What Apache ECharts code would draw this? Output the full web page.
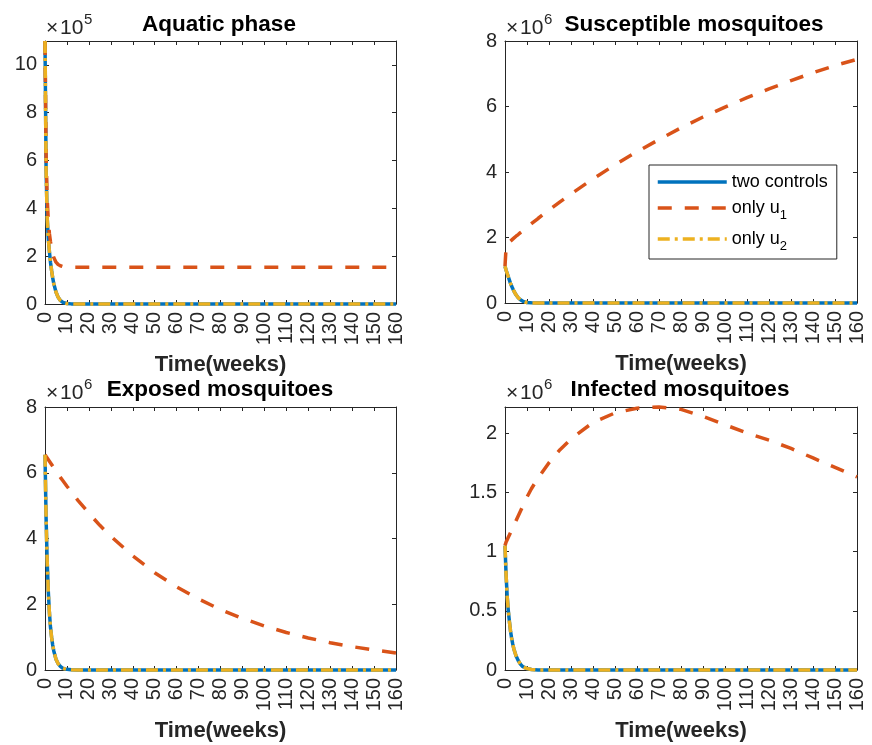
<!DOCTYPE html>
<html>
<head>
<meta charset="utf-8">
<script src="https://cdn.jsdelivr.net/npm/echarts@6/dist/echarts.min.js"></script>
<style>
  html, body { margin: 0; padding: 0; background: #fff; }
  #chart { width: 872px; height: 745px; }
</style>
</head>
<body>
<div id="chart"></div>
<script>
// Simulation time in weeks (shared by every curve)
const time = [0, 0.5, 1, 1.5, 2, 2.5, 3, 3.5, 4, 5, 6, 7, 8, 9, 10, 12, 15,
  20, 25, 30, 40, 50, 60, 70, 80, 90, 100, 110, 120, 130, 140, 150, 160];

const timeTicks = [0, 160, 10];           // min, max, step of the time axis

// Aquatic phase, in units of 10^5
const aquaticTwo = [11, 5.6, 3.6, 2.75, 2.2, 1.75, 1.4, 1.1, 0.85, 0.5, 0.28, 0.15, 0.08, 0.04, 0.02, 0.005, 0,
  0, 0, 0, 0, 0, 0, 0, 0, 0, 0, 0, 0, 0, 0, 0, 0];
const aquaticU1 = [11, 6.2, 4.4, 3.5, 2.95, 2.6, 2.3, 2.1, 1.95, 1.75, 1.65, 1.6, 1.57, 1.56, 1.55, 1.54, 1.54,
  1.54, 1.54, 1.54, 1.54, 1.54, 1.54, 1.54, 1.54, 1.54, 1.54, 1.54, 1.54, 1.54, 1.54, 1.54, 1.54];
const aquaticU2 = [11, 5.6, 3.6, 2.75, 2.2, 1.75, 1.4, 1.1, 0.85, 0.5, 0.28, 0.15, 0.08, 0.04, 0.02, 0.005, 0,
  0, 0, 0, 0, 0, 0, 0, 0, 0, 0, 0, 0, 0, 0, 0, 0];

// Susceptible mosquitoes, in units of 10^6
const suscTwo = [1.12, 1.0, 0.9, 0.8, 0.7, 0.6, 0.52, 0.44, 0.37, 0.25, 0.16, 0.1, 0.06, 0.03, 0.015, 0.004, 0,
  0, 0, 0, 0, 0, 0, 0, 0, 0, 0, 0, 0, 0, 0, 0, 0];
const suscU1 = [1.12, 1.72, 1.81, 1.84, 1.86, 1.89, 1.92, 1.95, 1.98, 2.04, 2.09, 2.15, 2.2, 2.26, 2.31, 2.42, 2.58,
  2.84, 3.09, 3.33, 3.79, 4.22, 4.62, 4.99, 5.35, 5.68, 5.98, 6.27, 6.54, 6.79, 7.03, 7.25, 7.44];
const suscU2 = [1.12, 1.0, 0.9, 0.8, 0.7, 0.6, 0.52, 0.44, 0.37, 0.25, 0.16, 0.1, 0.06, 0.03, 0.015, 0.004, 0,
  0, 0, 0, 0, 0, 0, 0, 0, 0, 0, 0, 0, 0, 0, 0, 0];

// Exposed mosquitoes, in units of 10^6
const expTwo = [6.55, 4.6, 3.3, 2.4, 1.75, 1.3, 1.0, 0.76, 0.58, 0.33, 0.19, 0.11, 0.06, 0.035, 0.02, 0.006, 0,
  0, 0, 0, 0, 0, 0, 0, 0, 0, 0, 0, 0, 0, 0, 0, 0];
const expU1 = [6.55, 6.5, 6.45, 6.4, 6.35, 6.3, 6.25, 6.2, 6.15, 6.05, 5.96, 5.86, 5.77, 5.68, 5.59, 5.42, 5.16,
  4.77, 4.4, 4.07, 3.47, 2.96, 2.53, 2.16, 1.84, 1.57, 1.34, 1.14, 0.975, 0.83, 0.71, 0.61, 0.52];
const expU2 = [6.55, 4.6, 3.3, 2.4, 1.75, 1.3, 1.0, 0.76, 0.58, 0.33, 0.19, 0.11, 0.06, 0.035, 0.02, 0.006, 0,
  0, 0, 0, 0, 0, 0, 0, 0, 0, 0, 0, 0, 0, 0, 0, 0];

// Infected mosquitoes, in units of 10^6
const infTwo = [1.05, 0.8, 0.62, 0.5, 0.41, 0.33, 0.27, 0.22, 0.18, 0.12, 0.08, 0.05, 0.03, 0.02, 0.012, 0.004, 0,
  0, 0, 0, 0, 0, 0, 0, 0, 0, 0, 0, 0, 0, 0, 0, 0];
const infU1 = [1.05, 1.08, 1.1, 1.12, 1.14, 1.16, 1.18, 1.2, 1.22, 1.26, 1.3, 1.34, 1.38, 1.42, 1.46, 1.53, 1.62,
  1.75, 1.86, 1.95, 2.09, 2.17, 2.21, 2.22, 2.2, 2.14, 2.07, 2.0, 1.94, 1.87, 1.79, 1.71, 1.63];
const infU2 = [1.05, 0.8, 0.62, 0.5, 0.41, 0.33, 0.27, 0.22, 0.18, 0.12, 0.08, 0.05, 0.03, 0.02, 0.012, 0.004, 0,
  0, 0, 0, 0, 0, 0, 0, 0, 0, 0, 0, 0, 0, 0, 0, 0];

const seriesNames = ['two controls', 'only u1', 'only u2'];
const panelTitles = ['Aquatic phase', 'Susceptible mosquitoes', 'Exposed mosquitoes', 'Infected mosquitoes'];
const exponents = ['5', '6', '6', '6'];
const xLabel = 'Time(weeks)';

// y-axis extents per panel: [min, max, step]
const yRanges = [[0, 11, 2], [0, 8, 2], [0, 8, 2], [0, 2.22, 0.5]];

const panelData = [
  [aquaticTwo, aquaticU1, aquaticU2],
  [suscTwo, suscU1, suscU2],
  [expTwo, expU1, expU2],
  [infTwo, infU1, infU2]
];

// ---- layout and styling ----
const FONT = '"Liberation Sans", Arial, Helvetica, sans-serif';
const AX = '#262626';
const COLORS = ['#0072BD', '#D95319', '#EDB120'];
const grids = [
  { left: 45, top: 41, width: 351, height: 263 },
  { left: 505, top: 41, width: 352, height: 262 },
  { left: 45, top: 407, width: 351, height: 263 },
  { left: 505, top: 407, width: 352, height: 263 }
];
const titlePos = [[219, 25], [694, 25], [220, 390], [680, 390]];
const expPos = [[46, 28], [506, 28], [46, 393], [506, 393]];

const tickStyle = { show: true, inside: true, length: 4, lineStyle: { color: AX, width: 1 } };
const lineStyleAx = { show: true, onZero: false, lineStyle: { color: AX, width: 1 } };

const xAxes = [], yAxes = [], series = [], graphics = [];

grids.forEach((g, i) => {
  const [ymin, ymax, ystep] = yRanges[i];
  // bottom time axis
  xAxes.push({
    type: 'value', gridIndex: i, position: 'bottom',
    min: timeTicks[0], max: timeTicks[1], interval: timeTicks[2],
    axisLine: lineStyleAx, axisTick: tickStyle, splitLine: { show: false },
    axisLabel: { rotate: 90, margin: 8, fontSize: 20, color: AX, fontFamily: FONT },
    name: xLabel, nameLocation: 'middle', nameGap: 50,
    nameTextStyle: { fontSize: 22, fontWeight: 'bold', color: AX, fontFamily: FONT }
  });
  // mirrored top edge
  xAxes.push({
    type: 'value', gridIndex: i, position: 'top',
    min: timeTicks[0], max: timeTicks[1], interval: timeTicks[2],
    axisLine: lineStyleAx, axisTick: tickStyle, splitLine: { show: false },
    axisLabel: { show: false }
  });
  yAxes.push({
    type: 'value', gridIndex: i, position: 'left',
    min: ymin, max: ymax, interval: ystep,
    axisLine: lineStyleAx, axisTick: tickStyle, splitLine: { show: false },
    axisLabel: { margin: 8, fontSize: 20, color: AX, fontFamily: FONT,
      showMaxLabel: ymax % ystep === 0 }
  });
  yAxes.push({
    type: 'value', gridIndex: i, position: 'right',
    min: ymin, max: ymax, interval: ystep,
    axisLine: lineStyleAx, axisTick: tickStyle, splitLine: { show: false },
    axisLabel: { show: false }
  });

  const styles = [
    { width: 3.5, type: 'solid' },
    { width: 3.5, type: [14, 13] },
    { width: 3.5, type: [12, 5, 3, 5] }
  ];
  panelData[i].forEach((vals, k) => {
    series.push({
      type: 'line', name: seriesNames[k],
      xAxisIndex: 2 * i, yAxisIndex: 2 * i,
      data: time.map((t, j) => [t, vals[j]]),
      symbol: 'none', clip: false, smooth: false,
      lineStyle: { color: COLORS[k], width: styles[k].width, type: styles[k].type, cap: 'butt' },
      itemStyle: { color: COLORS[k] },
      z: 2 + k
    });
  });

  graphics.push({
    type: 'text', x: titlePos[i][0], y: titlePos[i][1],
    style: { text: panelTitles[i], textAlign: 'center', textVerticalAlign: 'middle',
      fontSize: 22.5, fontWeight: 'bold', fill: '#000', fontFamily: FONT }
  });
  // axis multiplier: "×10" with a raised exponent
  graphics.push({
    type: 'text', x: expPos[i][0], y: expPos[i][1],
    style: { text: '\u00d7', textAlign: 'left', textVerticalAlign: 'middle',
      fontSize: 21, fill: AX, fontFamily: FONT }
  });
  graphics.push({
    type: 'text', x: expPos[i][0] + 14, y: expPos[i][1],
    style: { text: '10', textAlign: 'left', textVerticalAlign: 'middle',
      fontSize: 21, fill: AX, fontFamily: FONT }
  });
  graphics.push({
    type: 'text', x: expPos[i][0] + 38, y: expPos[i][1] - 8,
    style: { text: exponents[i], textAlign: 'left', textVerticalAlign: 'middle',
      fontSize: 15, fill: AX, fontFamily: FONT }
  });
});

const chart = echarts.init(document.getElementById('chart'), null, { renderer: 'canvas' });
chart.setOption({
  animation: false,
  backgroundColor: '#fff',
  grid: grids.map(g => Object.assign({ containLabel: false, outerBoundsMode: 'none' }, g)),
  xAxis: xAxes,
  yAxis: yAxes,
  legend: {
    data: seriesNames,
    orient: 'vertical',
    left: 649, top: 165,
    itemWidth: 69, itemHeight: 14, itemGap: 8,
    padding: [8, 9, 6, 7],
    backgroundColor: '#fff',
    borderColor: AX, borderWidth: 1,
    itemStyle: { opacity: 0 },
    lineStyle: { opacity: 1, width: 3.5 },
    formatter: name => name.replace(/u(\d)$/, 'u{sub|$1}'),
    textStyle: {
      fontSize: 18, color: '#000', fontFamily: FONT,
      rich: { sub: { fontSize: 13, padding: [15, 0, 0, 0], color: '#000', fontFamily: FONT } }
    }
  },
  graphic: graphics,
  series: series
});
</script>
</body>
</html>
